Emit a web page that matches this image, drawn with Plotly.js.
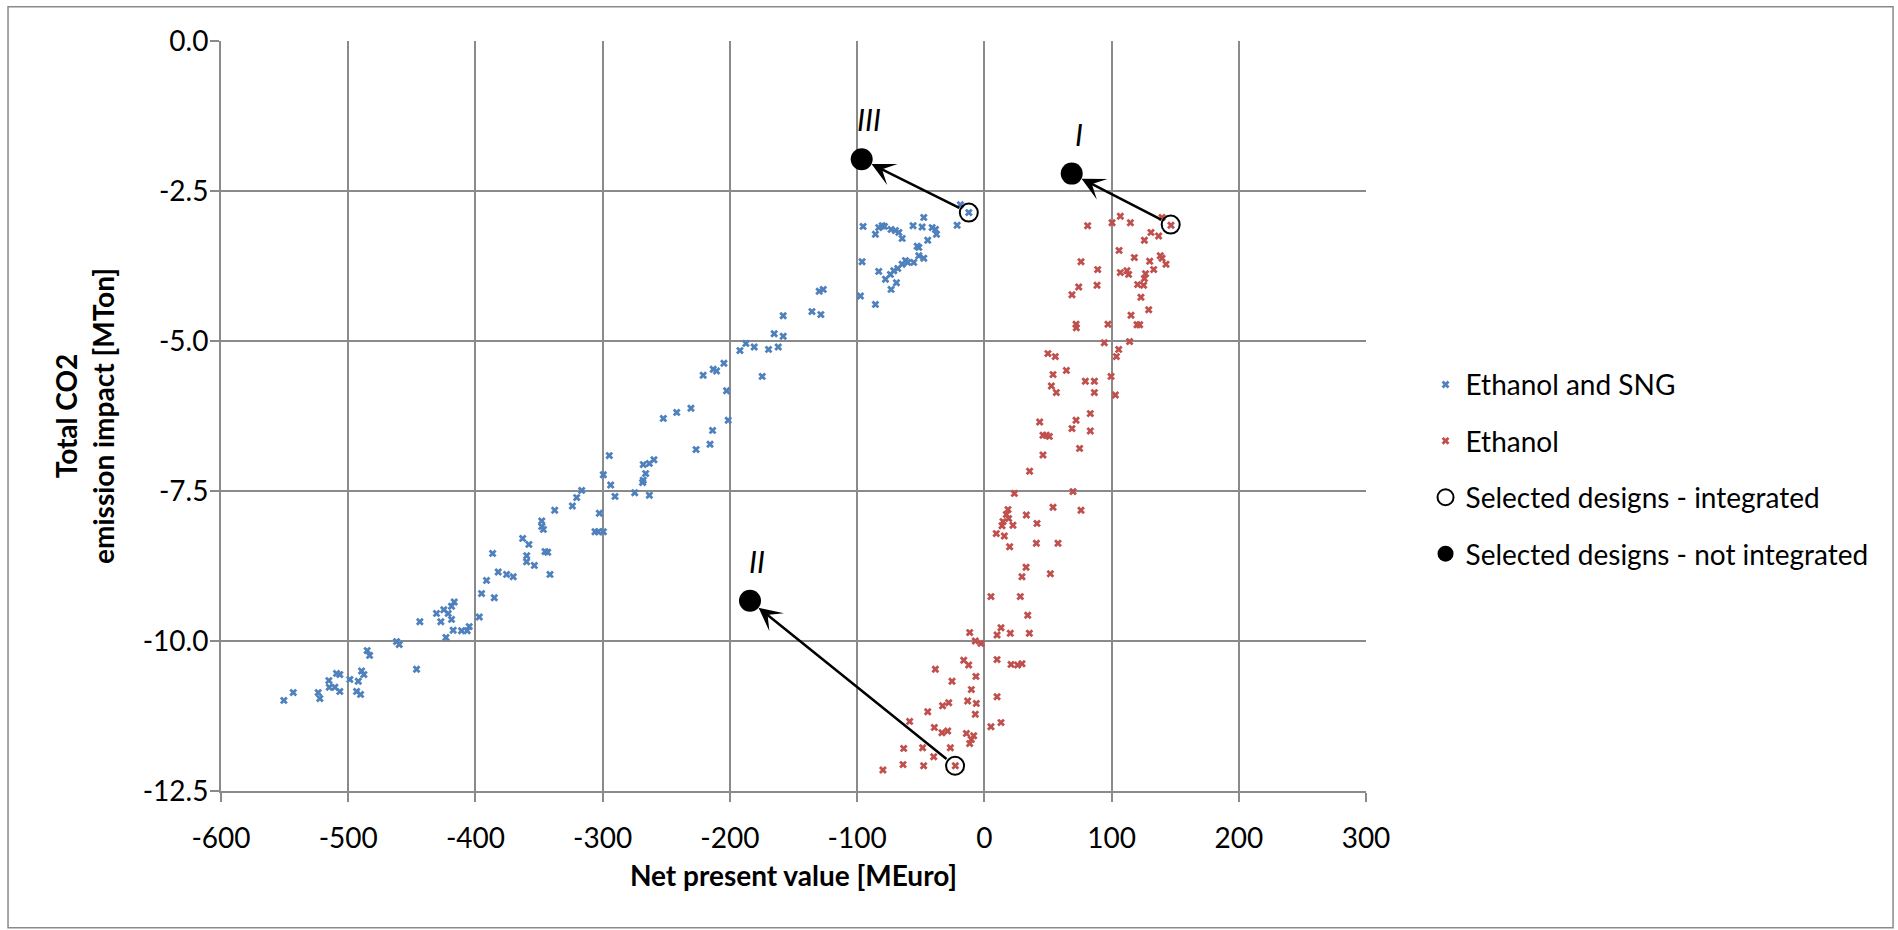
<!DOCTYPE html>
<html>
<head>
<meta charset="utf-8">
<script src="https://cdn.plot.ly/plotly-3.0.1.min.js"></script>
<style>html,body{margin:0;padding:0;background:#fff;}#chart{width:1898px;height:930px;}</style>
</head>
<body>
<div id="chart"></div>
<script>
// Ethanol and SNG (blue)
const blueX = [-550.6,-543.2,-523.6,-522.3,-515.2,-514.9,-510.5,-509.2,-506.6,-506.6,-498.7,-492.1,-493.4,-490.3,-489.5,-487.7,-485.1,-483.2,-462.0,-459.9,-446.3,-443.7,-430.6,-427.2,-424.9,-421.4,-418.8,-416.7,-418.8,-423.2,-417.5,-410.9,-406.5,-404.9,-397.0,-395.2,-391.3,-385.2,-382.1,-375.5,-370.3,-359.8,
-386.5,-362.9,-358.0,-359.7,-353.7,-347.9,-347.9,-346.6,-345.3,-343.2,-341.4,-337.7,-323.8,-320.4,-316.5,-302.6,-306.0,-303.4,-299.5,-299.5,-294.8,-293.7,-290.3,-274.8,-268.6,-268.1,-266.2,-268.1,-263.3,-259.7,-263.3,-252.3,-241.8,-230.6,-226.6,-215.6,
-213.6,-201.3,-202.6,-221.0,-213.1,-210.5,-204.7,-192.1,-187.4,-180.9,-174.6,-169.6,-162.0,-165.2,-158.1,-158.1,-135.5,-128.5,-129.8,-126.6,
-95.3,-96.1,-97.4,-85.6,-83.0,-80.3,-78.5,-73.3,-69.9,-67.2,-64.6,-83.0,-77.7,-73.8,-71.2,-68.0,-64.6,-62.0,-60.2,-69.1,-73.3,-85.6,-56.0,-48.9,-47.6,-55.5,-51.5,-51.5,-52.8,-47.6,-44.5,-41.0,-38.4,-37.6,-21.4,-18.8,-12.2];
const blueY = [-10.99,-10.86,-10.86,-10.96,-10.66,-10.77,-10.77,-10.54,-10.56,-10.84,-10.64,-10.67,-10.84,-10.89,-10.50,-10.56,-10.16,-10.24,-10.01,-10.06,-10.47,-9.68,-9.54,-9.68,-9.48,-9.54,-9.42,-9.35,-9.64,-9.94,-9.82,-9.83,-9.83,-9.76,-9.60,-9.21,-8.99,-9.28,-8.85,-8.89,-8.93,-8.68,
-8.54,-8.29,-8.39,-8.58,-8.74,-8.00,-8.09,-8.14,-8.51,-8.52,-8.89,-7.82,-7.75,-7.61,-7.49,-7.87,-8.18,-8.18,-8.18,-7.23,-6.91,-7.40,-7.59,-7.53,-7.36,-7.32,-7.21,-7.06,-7.04,-6.98,-7.57,-6.29,-6.19,-6.12,-6.81,-6.72,
-6.49,-6.32,-5.83,-5.57,-5.47,-5.50,-5.37,-5.16,-5.04,-5.10,-5.59,-5.14,-5.10,-4.88,-4.92,-4.58,-4.51,-4.56,-4.17,-4.14,
-3.09,-3.68,-4.25,-3.22,-3.11,-3.08,-3.09,-3.14,-3.16,-3.19,-3.29,-3.84,-3.97,-3.89,-3.83,-3.79,-3.72,-3.66,-3.69,-4.03,-4.14,-4.39,-3.08,-3.10,-2.94,-3.69,-3.58,-3.44,-3.42,-3.62,-3.32,-3.11,-3.14,-3.22,-3.07,-2.73,-2.86];

// Ethanol (red)
const redX = [81.2,100.4,106.9,114.8,139.7,146.7,131.0,137.0,125.8,105.9,117.9,130.0,138.3,139.7,142.8,133.1,76.0,89.1,106.9,112.1,113.4,126.7,125.8,120.5,125.2,88.6,74.2,68.9,123.1,129.2,115.3,120.0,122.1,72.1,72.3,97.2,94.3,114.2,105.6,103.8,50.0,55.8,64.5,54.0,52.7,56.6,79.4,86.5,86.5,99.6,103.0,
83.3,72.1,68.9,83.3,43.5,46.1,48.7,51.1,74.9,46.1,35.6,23.6,69.7,54.0,76.0,18.6,17.3,19.1,14.7,13.9,22.5,9.4,15.7,33.0,41.4,19.9,40.9,57.9,32.8,29.6,51.9,
5.2,28.3,34.1,13.1,10.0,20.4,35.4,-11.5,-7.1,-2.6,-16.2,-12.3,10.0,21.0,26.2,29.6,-38.5,-25.4,-6.6,-10.2,-13.1,-6.3,-7.1,10.0,-28.0,-32.8,-44.5,-58.7,-39.3,-33.3,-28.8,5.2,13.1,-14.1,-8.4,-10.2,-11.5,-63.4,-48.5,-39.8,-26.7,-63.9,-47.7,-79.7,-22.8];
const redY = [-3.08,-3.03,-2.92,-3.03,-2.94,-3.07,-3.19,-3.25,-3.32,-3.49,-3.61,-3.67,-3.58,-3.62,-3.72,-3.81,-3.68,-3.81,-3.86,-3.83,-3.89,-3.88,-3.96,-4.06,-4.07,-4.07,-4.10,-4.23,-4.27,-4.48,-4.57,-4.73,-4.73,-4.72,-4.78,-4.72,-5.03,-5.01,-5.14,-5.26,-5.21,-5.26,-5.49,-5.56,-5.75,-5.86,-5.67,-5.67,-5.86,-5.59,-5.90,
-6.21,-6.32,-6.46,-6.50,-6.35,-6.57,-6.57,-6.59,-6.79,-6.90,-7.17,-7.54,-7.51,-7.77,-7.82,-7.81,-7.89,-7.96,-8.01,-8.08,-8.07,-8.21,-8.25,-7.90,-8.04,-8.43,-8.37,-8.37,-8.77,-8.93,-8.88,
-9.26,-9.26,-9.57,-9.78,-9.90,-9.87,-9.87,-9.86,-10.00,-10.04,-10.32,-10.40,-10.31,-10.39,-10.40,-10.38,-10.47,-10.67,-10.59,-10.81,-11.00,-11.04,-11.22,-10.93,-11.03,-11.08,-11.18,-11.34,-11.44,-11.53,-11.50,-11.43,-11.36,-11.54,-11.58,-11.64,-11.71,-11.79,-11.78,-11.93,-11.78,-12.06,-12.08,-12.15,-12.08];

// Selected designs (order: I, II, III)
const designLabels = ['I', 'II', 'III'];
const intX = [146.5, -23.0, -12.2];
const intY = [-3.06, -12.08, -2.86];
const notIntX = [68.7, -184.2, -96.4];
const notIntY = [-2.21, -9.33, -1.97];

// Axis ticks
const xTickVals = [-600, -500, -400, -300, -200, -100, 0, 100, 200, 300];
const xTickText = ['-600', '-500', '-400', '-300', '-200', '-100', '0', '100', '200', '300'];
const yTickVals = [0, -2.5, -5, -7.5, -10, -12.5];
const yTickText = ['0.0', '-2.5', '-5.0', '-7.5', '-10.0', '-12.5'];

const FONT = 'Lato, "Open Sans", sans-serif';
const BLUE = '#4F81BD';
const RED = '#C0504D';
const FS = 28;

const traces = [
  {x: blueX, y: blueY, mode: 'markers', type: 'scatter', name: 'Ethanol and SNG', legendgroup: 'a',
   marker: {symbol: 'x', size: 7, color: BLUE, line: {width: 0}}},
  {x: redX, y: redY, mode: 'markers', type: 'scatter', name: 'Ethanol', legendgroup: 'b',
   marker: {symbol: 'x', size: 7, color: RED, line: {width: 0}}},
  {x: intX, y: intY, mode: 'markers', type: 'scatter', name: 'Selected designs - integrated', legendgroup: 'c',
   marker: {symbol: 'circle-open', size: 18, color: '#000', line: {width: 2, color: '#000'}}},
  {x: notIntX, y: notIntY, mode: 'markers', type: 'scatter', name: 'Selected designs - not integrated', legendgroup: 'd',
   marker: {symbol: 'circle', size: 22, color: '#000'}}
];

const annotations = [];
for (let i = 0; i < intX.length; i++) {
  annotations.push({
    x: notIntX[i], y: notIntY[i], ax: intX[i], ay: intY[i],
    xref: 'x', yref: 'y', axref: 'x', ayref: 'y',
    text: '', showarrow: true, arrowhead: 3, arrowsize: 1.55, arrowwidth: 2.5,
    arrowcolor: '#000', standoff: 11, startstandoff: 9
  });
  annotations.push({
    x: notIntX[i], y: notIntY[i], xref: 'x', yref: 'y',
    text: '<i>' + designLabels[i] + '</i>', showarrow: false,
    xshift: 7, yshift: 40, font: {family: FONT, size: 30, color: '#000'}
  });
}

const layout = {
  width: 1898, height: 930,
  paper_bgcolor: '#fff', plot_bgcolor: '#fff',
  margin: {l: 221, r: 532, t: 41, b: 139, pad: 0},
  font: {family: FONT, size: FS, color: '#000'},
  showlegend: true,
  legend: {x: 1.052, xanchor: 'left', y: 0.429, yanchor: 'middle',
           font: {family: FONT, size: FS, color: '#000'},
           traceorder: 'grouped', tracegroupgap: 17, bgcolor: 'rgba(0,0,0,0)'},
  xaxis: {range: [-600, 300], tickvals: xTickVals, ticktext: xTickText,
          showgrid: true, gridcolor: '#8a8a8a', gridwidth: 2,
          showline: true, linecolor: '#8a8a8a', linewidth: 2, mirror: false,
          ticks: 'outside', ticklen: 9, tickcolor: '#8a8a8a', tickwidth: 2, ticklabelstandoff: 12,
          zeroline: false, tickfont: {family: FONT, size: FS, color: '#000'},
          title: {text: '<b>Net present value [MEuro]</b>', font: {family: FONT, size: FS, color: '#000'}, standoff: 14}},
  yaxis: {range: [-12.5, 0], tickvals: yTickVals, ticktext: yTickText,
          showgrid: true, gridcolor: '#8a8a8a', gridwidth: 2,
          showline: true, linecolor: '#8a8a8a', linewidth: 2,
          ticks: 'outside', ticklen: 9, tickcolor: '#8a8a8a', tickwidth: 2, ticklabelstandoff: -4,
          zeroline: false, tickfont: {family: FONT, size: FS, color: '#000'},
          title: {text: '<b>Total CO2<br>emission impact [MTon]</b>', font: {family: FONT, size: FS, color: '#000'}, standoff: 20}},
  annotations: annotations,
  shapes: [{type: 'rect', xref: 'paper', yref: 'paper', x0: -0.186, x1: 1.4603, y0: -0.1823, y1: 1.0457,
            line: {color: '#8a8a8a', width: 1.5}, fillcolor: 'rgba(0,0,0,0)', layer: 'below'}]
};

Plotly.newPlot('chart', traces, layout, {displayModeBar: false, staticPlot: true});
</script>
</body>
</html>
